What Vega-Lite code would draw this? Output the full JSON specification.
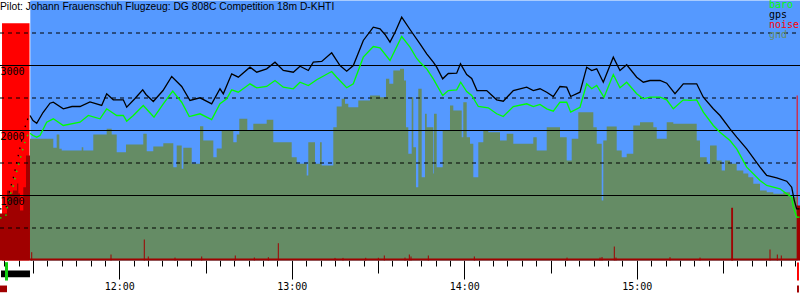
{
  "$schema": "https://vega.github.io/schema/vega-lite/v6.json",
  "width": 800,
  "height": 260,
  "autosize": "none",
  "padding": {"left": 0, "top": 0, "right": 0, "bottom": 40},
  "background": "#ffffff",
  "config": {"view": {"stroke": null}},
  "title": {"text": "Pilot: Johann Frauenschuh Flugzeug: DG 808C Competition 18m D-KHTI", "anchor": "start", "frame": "group", "orient": "top", "offset": -12, "baseline": "top", "font": "Liberation Sans", "fontSize": 10.3, "fontWeight": "normal", "color": "#000000"},
  "datasets": {
    "bg": [{"t": 689.04, "t1": 956.76, "a": 4000, "a0": 0}],
    "engine": [{"t": 679.2, "t1": 688.76, "a": 3650, "a0": 0}, {"t": 955.6, "t1": 955.95, "a": 2538, "a0": 0}],
    "ground": [
      {"t":688.93,"a":1872},{"t":697.04,"a":1734},{"t":698.22,"a":1938},{"t":699.13,"a":1718},{"t":699.96,"a":1692},{"t":706.92,"a":1743},{"t":707.47,"a":1692},{"t":710.95,"a":1938},{"t":715.61,"a":2026},{"t":717.35,"a":1938},{"t":719.09,"a":1666},{"t":722.33,"a":1785},{"t":728.34,"a":1949},{"t":729.53,"a":1682},{"t":731.82,"a":1754},{"t":735.3,"a":1805},{"t":738.78,"a":1435},{"t":739.96,"a":1769},{"t":741.7,"a":1411},{"t":742.26,"a":1734},{"t":745.18,"a":1488},{"t":748.07,"a":2066},{"t":749.21,"a":1846},{"t":752.7,"a":1589},{"t":753.87,"a":1723},{"t":755.61,"a":2000},{"t":759.65,"a":1820},{"t":760.83,"a":1938},{"t":761.74,"a":2180},{"t":764.52,"a":2000},{"t":766.61,"a":2103},{"t":771.26,"a":2165},{"t":773.56,"a":1820},{"t":779.96,"a":1589},{"t":781.7,"a":1488},{"t":785.18,"a":1308},{"t":785.74,"a":1820},{"t":788.07,"a":1488},{"t":789.8,"a":1820},{"t":790.4,"a":1462},{"t":794.43,"a":2051},{"t":795.61,"a":2369},{"t":797.35,"a":2488},{"t":798.5,"a":2411},{"t":799.65,"a":2358},{"t":803.13,"a":2462},{"t":807.2,"a":2538},{"t":810.67,"a":2512},{"t":812.76,"a":2795},{"t":813.91,"a":2718},{"t":815.3,"a":2923},{"t":817.63,"a":2950},{"t":819.02,"a":2769},{"t":819.72,"a":2051},{"t":820.52,"a":1641},{"t":821.7,"a":2512},{"t":822.26,"a":1743},{"t":823.2,"a":1128},{"t":824.0,"a":2642},{"t":825.17,"a":1282},{"t":826.33,"a":2257},{"t":826.92,"a":2051},{"t":829.21,"a":1338},{"t":829.46,"a":2257},{"t":830.4,"a":1435},{"t":832.48,"a":2000},{"t":835.02,"a":2385},{"t":836.17,"a":2308},{"t":839.09,"a":1897},{"t":839.65,"a":2435},{"t":840.83,"a":1897},{"t":841.98,"a":1795},{"t":843.13,"a":1282},{"t":844.87,"a":1820},{"t":846.61,"a":2000},{"t":848.34,"a":1974},{"t":852.41,"a":1846},{"t":854.74,"a":1949},{"t":857.04,"a":1795},{"t":864.0,"a":1897},{"t":865.18,"a":1692},{"t":868.66,"a":2051},{"t":873.28,"a":1897},{"t":875.61,"a":1538},{"t":877.35,"a":1872},{"t":879.65,"a":2282},{"t":884.87,"a":2051},{"t":886.05,"a":1795},{"t":887.79,"a":923},{"t":888.34,"a":1846},{"t":889.52,"a":2062},{"t":893.0,"a":1692},{"t":894.74,"a":1589},{"t":896.48,"a":1641},{"t":898.78,"a":2077},{"t":901.11,"a":2128},{"t":905.74,"a":2051},{"t":906.92,"a":1872},{"t":910.4,"a":2128},{"t":912.69,"a":2103},{"t":920.83,"a":1846},{"t":921.98,"a":1589},{"t":924.31,"a":1488},{"t":925.46,"a":1769},{"t":927.78,"a":1538},{"t":929.52,"a":1385},{"t":930.67,"a":1538},{"t":932.41,"a":1488},{"t":934.74,"a":1385},{"t":937.04,"a":1338},{"t":938.78,"a":1282},{"t":940.52,"a":1180},{"t":942.85,"a":1077},{"t":945.18,"a":1051},{"t":947.48,"a":1026},{"t":950.96,"a":1051},{"t":953.28,"a":974},{"t":955.72,"a":974}
    ],
    "noiseBand": [
      {"t":678.5,"a":723},{"t":680.93,"a":1077},{"t":681.98,"a":1030},{"t":683.02,"a":1077},{"t":684.41,"a":1185},{"t":684.87,"a":1030},{"t":685.46,"a":769},{"t":686.6,"a":1128},{"t":687.54,"a":1615},{"t":688.93,"a":30},{"t":955.6,"a":846},{"t":956.76,"a":846}
    ],
    "noiseSpikes": [
      {"t":689.53,"a":128},{"t":717.11,"a":92},{"t":728.69,"a":323},{"t":730.08,"a":62},{"t":739.37,"a":45},{"t":748.66,"a":62},{"t":760.34,"a":77},{"t":766.96,"a":46},{"t":771.83,"a":51},{"t":775.3,"a":266},{"t":795.03,"a":40},{"t":797.8,"a":40},{"t":805.7,"a":42},{"t":810.1,"a":42},{"t":812.17,"a":77},{"t":819.37,"a":45},{"t":820.87,"a":92},{"t":821.46,"a":62},{"t":827.48,"a":77},{"t":843.48,"a":62},{"t":875.72,"a":45},{"t":887.2,"a":45},{"t":887.9,"a":54},{"t":892.17,"a":215},{"t":892.76,"a":46},{"t":911.54,"a":51},{"t":921.98,"a":45},{"t":933.0,"a":811},{"t":933.3,"a":811},{"t":946.33,"a":169},{"t":948.87,"a":92},{"t":950.26,"a":77}
    ],
    "gridMinor": [{"t":678.5,"t1":956.76,"a":500},{"t":678.5,"t1":956.76,"a":1500},{"t":678.5,"t1":956.76,"a":2500},{"t":678.5,"t1":956.76,"a":3500}],
    "gridMajor": [{"t":678.5,"t1":956.76,"a":1000},{"t":678.5,"t1":956.76,"a":2000},{"t":678.5,"t1":956.76,"a":3000}],
    "climb": [
      {"series":"gps","t":678.5,"a":795},{"series":"gps","t":680.59,"a":795},{"series":"gps","t":680.83,"a":872},{"series":"gps","t":681.39,"a":974},{"series":"gps","t":681.98,"a":1103},{"series":"gps","t":682.92,"a":1231},{"series":"gps","t":683.72,"a":1385},{"series":"gps","t":684.31,"a":1512},{"series":"gps","t":685.11,"a":1666},{"series":"gps","t":686.05,"a":1846},{"series":"gps","t":687.2,"a":2051},{"series":"gps","t":688.34,"a":2205},{"series":"gps","t":688.93,"a":2231},
      {"series":"baro","t":678.5,"a":657},{"series":"baro","t":680.4,"a":657},{"series":"baro","t":681.39,"a":897},{"series":"baro","t":682.22,"a":1026},{"series":"baro","t":683.13,"a":1154},{"series":"baro","t":683.96,"a":1308},{"series":"baro","t":684.87,"a":1462},{"series":"baro","t":685.7,"a":1589},{"series":"baro","t":686.5,"a":1723},{"series":"baro","t":687.37,"a":1846},{"series":"baro","t":688.24,"a":1938},{"series":"baro","t":688.93,"a":1958}
    ],
    "track": [
      {"series":"gps","t":688.93,"a":2231},{"series":"gps","t":689.98,"a":2154},{"series":"gps","t":691.27,"a":2112},{"series":"gps","t":693.46,"a":2277},{"series":"gps","t":695.89,"a":2420},{"series":"gps","t":697.04,"a":2435},{"series":"gps","t":700.52,"a":2334},{"series":"gps","t":703.54,"a":2369},{"series":"gps","t":706.33,"a":2369},{"series":"gps","t":709.8,"a":2440},{"series":"gps","t":713.87,"a":2385},{"series":"gps","t":715.61,"a":2565},{"series":"gps","t":717.91,"a":2472},{"series":"gps","t":721.39,"a":2472},{"series":"gps","t":722.57,"a":2358},{"series":"gps","t":725.46,"a":2492},{"series":"gps","t":728.14,"a":2626},{"series":"gps","t":729.28,"a":2554},{"series":"gps","t":731.82,"a":2446},{"series":"gps","t":735.2,"a":2615},{"series":"gps","t":738.22,"a":2831},{"series":"gps","t":741.7,"a":2677},{"series":"gps","t":744.59,"a":2462},{"series":"gps","t":748.07,"a":2503},{"series":"gps","t":752.13,"a":2411},{"series":"gps","t":755.02,"a":2642},{"series":"gps","t":756.17,"a":2565},{"series":"gps","t":759.09,"a":2872},{"series":"gps","t":761.39,"a":2820},{"series":"gps","t":765.46,"a":2974},{"series":"gps","t":767.79,"a":2897},{"series":"gps","t":771.26,"a":2949},{"series":"gps","t":774.15,"a":3051},{"series":"gps","t":777.04,"a":2923},{"series":"gps","t":780.52,"a":2897},{"series":"gps","t":782.85,"a":2989},{"series":"gps","t":785.74,"a":2923},{"series":"gps","t":787.47,"a":3051},{"series":"gps","t":790.4,"a":3062},{"series":"gps","t":793.87,"a":3195},{"series":"gps","t":796.76,"a":3000},{"series":"gps","t":799.09,"a":2912},{"series":"gps","t":801.39,"a":3000},{"series":"gps","t":804.87,"a":3385},{"series":"gps","t":808.34,"a":3589},{"series":"gps","t":810.67,"a":3565},{"series":"gps","t":812.41,"a":3477},{"series":"gps","t":814.15,"a":3359},{"series":"gps","t":815.89,"a":3508},{"series":"gps","t":818.22,"a":3743},{"series":"gps","t":821.11,"a":3554},{"series":"gps","t":824.59,"a":3334},{"series":"gps","t":826.92,"a":3180},{"series":"gps","t":829.21,"a":3051},{"series":"gps","t":830.4,"a":2974},{"series":"gps","t":832.48,"a":2795},{"series":"gps","t":834.43,"a":2877},{"series":"gps","t":837.35,"a":2882},{"series":"gps","t":838.67,"a":3026},{"series":"gps","t":840.83,"a":2862},{"series":"gps","t":842.57,"a":2800},{"series":"gps","t":844.41,"a":2615},{"series":"gps","t":847.79,"a":2615},{"series":"gps","t":851.26,"a":2472},{"series":"gps","t":853.56,"a":2451},{"series":"gps","t":857.04,"a":2615},{"series":"gps","t":861.7,"a":2666},{"series":"gps","t":864.0,"a":2615},{"series":"gps","t":866.33,"a":2642},{"series":"gps","t":868.66,"a":2589},{"series":"gps","t":870.95,"a":2523},{"series":"gps","t":873.28,"a":2677},{"series":"gps","t":875.61,"a":2666},{"series":"gps","t":877.0,"a":2523},{"series":"gps","t":880.24,"a":2589},{"series":"gps","t":882.57,"a":2974},{"series":"gps","t":884.31,"a":2923},{"series":"gps","t":886.05,"a":2949},{"series":"gps","t":888.34,"a":2743},{"series":"gps","t":891.82,"a":3128},{"series":"gps","t":894.15,"a":2923},{"series":"gps","t":896.48,"a":3011},{"series":"gps","t":899.96,"a":2820},{"series":"gps","t":902.26,"a":2743},{"series":"gps","t":904.59,"a":2769},{"series":"gps","t":908.07,"a":2769},{"series":"gps","t":910.4,"a":2728},{"series":"gps","t":913.28,"a":2565},{"series":"gps","t":916.17,"a":2718},{"series":"gps","t":918.5,"a":2718},{"series":"gps","t":920.83,"a":2718},{"series":"gps","t":923.13,"a":2512},{"series":"gps","t":926.6,"a":2334},{"series":"gps","t":928.93,"a":2231},{"series":"gps","t":932.41,"a":2026},{"series":"gps","t":934.74,"a":1897},{"series":"gps","t":938.22,"a":1718},{"series":"gps","t":942.85,"a":1436},{"series":"gps","t":945.18,"a":1308},{"series":"gps","t":948.66,"a":1272},{"series":"gps","t":952.13,"a":1220},{"series":"gps","t":953.87,"a":1128},{"series":"gps","t":954.78,"a":923},{"series":"gps","t":955.61,"a":795},{"series":"gps","t":956.59,"a":795},
      {"series":"baro","t":688.93,"a":1958},{"series":"baro","t":689.98,"a":1923},{"series":"baro","t":691.27,"a":1897},{"series":"baro","t":692.41,"a":1923},{"series":"baro","t":694.74,"a":2128},{"series":"baro","t":697.04,"a":2180},{"series":"baro","t":700.52,"a":2077},{"series":"baro","t":706.33,"a":2128},{"series":"baro","t":709.21,"a":2231},{"series":"baro","t":713.28,"a":2180},{"series":"baro","t":715.61,"a":2334},{"series":"baro","t":719.09,"a":2231},{"series":"baro","t":721.39,"a":2231},{"series":"baro","t":722.57,"a":2143},{"series":"baro","t":724.87,"a":2231},{"series":"baro","t":728.34,"a":2385},{"series":"baro","t":732.07,"a":2205},{"series":"baro","t":735.3,"a":2411},{"series":"baro","t":738.57,"a":2605},{"series":"baro","t":741.7,"a":2435},{"series":"baro","t":744.34,"a":2215},{"series":"baro","t":748.07,"a":2257},{"series":"baro","t":752.13,"a":2169},{"series":"baro","t":755.02,"a":2411},{"series":"baro","t":757.35,"a":2488},{"series":"baro","t":759.09,"a":2626},{"series":"baro","t":761.39,"a":2589},{"series":"baro","t":765.46,"a":2718},{"series":"baro","t":767.79,"a":2657},{"series":"baro","t":771.26,"a":2677},{"series":"baro","t":774.15,"a":2769},{"series":"baro","t":777.04,"a":2666},{"series":"baro","t":780.52,"a":2642},{"series":"baro","t":782.85,"a":2743},{"series":"baro","t":785.74,"a":2692},{"series":"baro","t":788.66,"a":2780},{"series":"baro","t":793.87,"a":2908},{"series":"baro","t":795.61,"a":2820},{"series":"baro","t":799.09,"a":2657},{"series":"baro","t":801.39,"a":2718},{"series":"baro","t":804.87,"a":3128},{"series":"baro","t":808.34,"a":3292},{"series":"baro","t":810.67,"a":3272},{"series":"baro","t":814.15,"a":3077},{"series":"baro","t":818.22,"a":3446},{"series":"baro","t":821.11,"a":3282},{"series":"baro","t":823.44,"a":3108},{"series":"baro","t":824.59,"a":3051},{"series":"baro","t":826.92,"a":2949},{"series":"baro","t":829.21,"a":2795},{"series":"baro","t":832.48,"a":2538},{"series":"baro","t":834.43,"a":2615},{"series":"baro","t":837.35,"a":2626},{"series":"baro","t":838.74,"a":2743},{"series":"baro","t":840.83,"a":2600},{"series":"baro","t":842.57,"a":2538},{"series":"baro","t":844.87,"a":2369},{"series":"baro","t":848.34,"a":2349},{"series":"baro","t":851.26,"a":2257},{"series":"baro","t":853.56,"a":2215},{"series":"baro","t":857.04,"a":2369},{"series":"baro","t":861.7,"a":2411},{"series":"baro","t":864.0,"a":2369},{"series":"baro","t":866.33,"a":2400},{"series":"baro","t":868.66,"a":2334},{"series":"baro","t":870.95,"a":2297},{"series":"baro","t":873.28,"a":2435},{"series":"baro","t":875.61,"a":2435},{"series":"baro","t":877.0,"a":2282},{"series":"baro","t":880.24,"a":2358},{"series":"baro","t":882.57,"a":2718},{"series":"baro","t":884.31,"a":2642},{"series":"baro","t":886.05,"a":2692},{"series":"baro","t":888.59,"a":2512},{"series":"baro","t":891.82,"a":2862},{"series":"baro","t":894.15,"a":2657},{"series":"baro","t":896.48,"a":2743},{"series":"baro","t":899.96,"a":2565},{"series":"baro","t":902.26,"a":2488},{"series":"baro","t":904.59,"a":2512},{"series":"baro","t":908.07,"a":2512},{"series":"baro","t":910.4,"a":2472},{"series":"baro","t":912.69,"a":2334},{"series":"baro","t":916.17,"a":2472},{"series":"baro","t":918.5,"a":2462},{"series":"baro","t":920.83,"a":2472},{"series":"baro","t":923.13,"a":2282},{"series":"baro","t":926.6,"a":2077},{"series":"baro","t":928.93,"a":1974},{"series":"baro","t":932.41,"a":1846},{"series":"baro","t":934.74,"a":1718},{"series":"baro","t":938.22,"a":1436},{"series":"baro","t":942.85,"a":1231},{"series":"baro","t":945.18,"a":1154},{"series":"baro","t":949.8,"a":1103},{"series":"baro","t":952.13,"a":1026},{"series":"baro","t":953.87,"a":974},{"series":"baro","t":954.43,"a":820},{"series":"baro","t":955.61,"a":666},{"series":"baro","t":956.59,"a":666}
    ],
    "markers": [
      {"kind":"tow","t":678.85,"t1":688.93,"a":-154,"a0":-257},
      {"kind":"takeoff","t":680.24,"t1":681.28,"a":-26,"a0":-308},
      {"kind":"engine","t":678.5,"t1":680.93,"a":-385,"a0":-488},
      {"kind":"landing","t":955.72,"t1":956.4,"a":-31,"a0":-308},
      {"kind":"engine","t":955.72,"t1":956.4,"a":-385,"a0":-492}
    ]
  },
  "encoding": {
    "x": {"field": "t", "type": "quantitative", "title": null,
      "scale": {"domain": [678.5, 956.76], "nice": false, "zero": false},
      "axis": {"orient": "bottom", "title": null, "values": [680,685,690,695,700,705,710,715,720,725,730,735,740,745,750,755,760,765,770,775,780,785,790,795,800,805,810,815,820,825,830,835,840,845,850,855,860,865,870,875,880,885,890,895,900,905,910,915,920,925,930,935,940,945,950,955],
        "labelExpr": "datum.value % 60 === 0 ? floor(datum.value / 60) + ':00' : ''",
        "domain": false, "grid": false, "ticks": true, "tickColor": "#000000", "tickWidth": 1, "tickOpacity": 1,
        "tickSize": {"condition": [{"test": "datum.value % 60 === 0", "value": 19}, {"test": "datum.value % 30 === 0", "value": 13}], "value": 6},
        "labelPadding": 2, "labelFont": "DejaVu Sans Mono", "labelFontSize": 10, "labelColor": "#000000", "labelBaseline": "top", "labelFlush": false, "labelOverlap": false}},
    "y": {"field": "a", "type": "quantitative", "title": null, "stack": null,
      "scale": {"domain": [0, 4000], "nice": false, "zero": false, "range": [260.5, 0.5]},
      "axis": {"orient": "left", "title": null, "values": [1000, 2000, 3000], "format": "d", "domain": false, "ticks": false, "grid": false, "tickSize": 0, "labelPadding": 0, "labelAlign": "left", "labelBaseline": "top", "labelOffset": 1, "labelFont": "DejaVu Sans Mono", "labelFontSize": 10, "labelColor": "#000000", "zindex": 1}}
  },
  "layer": [
    {"data": {"name": "bg"}, "mark": {"type": "rect", "color": "#5599ff"}, "encoding": {"x2": {"field": "t1"}, "y2": {"field": "a0"}}},
    {"data": {"name": "engine"}, "mark": {"type": "rect", "color": "#ff0000"}, "encoding": {"x2": {"field": "t1"}, "y2": {"field": "a0"}}},
    {"data": {"name": "ground"}, "mark": {"type": "area", "interpolate": "step-after", "orient": "vertical", "color": "#658c65"}},
    {"data": {"name": "noiseBand"}, "mark": {"type": "area", "interpolate": "step-after", "orient": "vertical", "color": "#a00000"}},
    {"data": {"name": "noiseSpikes"}, "mark": {"type": "rule", "color": "#a00000", "strokeWidth": 1}, "encoding": {"y2": {"datum": 0}}},
    {"data": {"name": "gridMinor"}, "mark": {"type": "rule", "color": "#000000", "strokeWidth": 1, "strokeDash": [4, 4]}, "encoding": {"x2": {"field": "t1"}}},
    {"data": {"name": "gridMajor"}, "mark": {"type": "rule", "color": "#000000", "strokeWidth": 1}, "encoding": {"x2": {"field": "t1"}}},
    {"data": {"name": "climb"}, "mark": {"type": "line", "strokeWidth": 1.3, "strokeDash": [1.5, 6]},
      "encoding": {"color": {"field": "series", "type": "nominal", "scale": {"domain": ["baro", "gps", "noise", "gnd"], "range": ["#00ff00", "#000000", "#ff0000", "#658c65"]},
        "legend": {"title": null, "orient": "top-right", "offset": 0, "padding": 0, "rowPadding": 0, "labelOffset": 0, "symbolSize": 1, "symbolOpacity": 0, "symbolStrokeWidth": 0, "labelFont": "DejaVu Sans Mono", "labelFontSize": 10, "labelLimit": 200, "zindex": 2,
          "encode": {"labels": {"update": {"fill": {"signal": "scale('color', datum.value)"}}}}}}}},
    {"data": {"name": "track"}, "mark": {"type": "line", "strokeWidth": 1.3},
      "encoding": {"color": {"field": "series", "type": "nominal", "scale": {"domain": ["baro", "gps", "noise", "gnd"], "range": ["#00ff00", "#000000", "#ff0000", "#658c65"]},
        "legend": {"title": null, "orient": "top-right", "offset": 0, "padding": 0, "rowPadding": 0, "labelOffset": 0, "symbolSize": 1, "symbolOpacity": 0, "symbolStrokeWidth": 0, "labelFont": "DejaVu Sans Mono", "labelFontSize": 10, "labelLimit": 200, "zindex": 2,
          "encode": {"labels": {"update": {"fill": {"signal": "scale('color', datum.value)"}}}}}}}},
    {"data": {"name": "markers"}, "mark": {"type": "rect"},
      "encoding": {"x2": {"field": "t1"}, "y2": {"field": "a0"}, "fill": {"field": "kind", "type": "nominal", "scale": {"domain": ["tow", "takeoff", "landing", "engine"], "range": ["#000000", "#11cc11", "#ff0000", "#a00000"]}, "legend": null}}}
  ]
}
